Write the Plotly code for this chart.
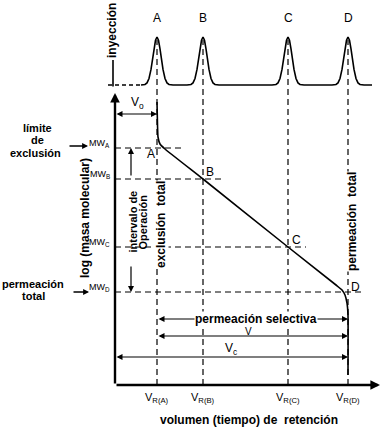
import plotly.graph_objects as go

# ---------------- data (arbitrary diagram units) ----------------
peaks = ["A", "B", "C", "D"]
v_r = [4.2, 8.8, 17.3, 23.3]            # retention volumes V_R
log_mw = [23.7, 20.6, 13.8, 9.3]        # log(masa molecular) of each standard
peak_height = [1.0, 1.0, 1.0, 1.0]      # detector signal (relative)

# calibration curve log(MW) vs retention volume
curve_v = [4.2, 4.25, 4.3, 4.5, 5.0, 8.8, 17.3, 22.1, 22.7, 23.0, 23.2, 23.3, 23.3]
curve_logmw = [28.3, 26.0, 24.8, 24.1, 23.6, 20.6, 13.8, 10.0, 9.5, 9.0, 8.2, 7.0, 1.0]

# chromatographic peak profile (offset from V_R, relative height)
profile_dv = [-1.6, -1.2, -1.0, -0.8, -0.6, -0.45, -0.3, -0.15, 0.0,
              0.15, 0.3, 0.45, 0.6, 0.8, 1.0, 1.2, 1.6]
profile_h = [0.0, 0.011, 0.044, 0.135, 0.325, 0.531, 0.755, 0.932, 1.0,
             0.932, 0.755, 0.531, 0.325, 0.135, 0.044, 0.011, 0.0]

v_injection = -0.2
v_end = 25.7
v0 = v_r[0]          # volumen de exclusión
vc = v_r[-1]         # volumen total

FONT = "Liberation Sans, Arial, sans-serif"
BLACK = "#000000"

fig = go.Figure()

# ---------------- chromatogram (top) ----------------
cx, cy = [], []
for vr, h in zip(v_r, peak_height):
    for dv, ph in zip(profile_dv, profile_h):
        cx.append(vr + dv)
        cy.append(ph * h)
cx.append(v_end)
cy.append(0.0)
fig.add_trace(go.Scatter(x=cx, y=cy, mode="lines", yaxis="y2",
                         line=dict(color=BLACK, width=1.6), hoverinfo="skip"))
# dashed stretch of baseline between injection and first peak
fig.add_trace(go.Scatter(x=[v_injection - 0.5, v_r[0] + profile_dv[0]], y=[0, 0],
                         mode="lines", yaxis="y2",
                         line=dict(color=BLACK, width=1.4, dash="4px,3px"), hoverinfo="skip"))
# injection mark
fig.add_trace(go.Scatter(x=[v_injection, v_injection], y=[-0.03, 0.52], mode="lines",
                         yaxis="y2", line=dict(color=BLACK, width=1.6), hoverinfo="skip"))

# ---------------- calibration curve ----------------
fig.add_trace(go.Scatter(x=curve_v, y=curve_logmw, mode="lines",
                         line=dict(color=BLACK, width=1.6, shape="spline", smoothing=0.4),
                         hoverinfo="skip"))

shapes = []
DASH = "6px,4px"
# vertical dashed lines at each retention volume
for vr in v_r:
    shapes.append(dict(type="line", xref="x", yref="y", x0=vr, x1=vr, y0=0, y1=34.5,
                       line=dict(color=BLACK, width=1.2, dash=DASH), layer="below"))
# horizontal dashed lines at each molecular weight
hline_ext = [2.5, 1.9, 1.8, 1.4]
for vr, lm, ext in zip(v_r, log_mw, hline_ext):
    shapes.append(dict(type="line", xref="x", yref="y", x0=0, x1=vr + ext, y0=lm, y1=lm,
                       line=dict(color=BLACK, width=1.2, dash=DASH), layer="below"))

annotations = []


def arrow(x0, y0, x1, y1, width=1.3, both=True, head=2, size=1.0):
    annotations.append(dict(x=x1, y=y1, ax=x0, ay=y0, xref="x", yref="y",
                            axref="x", ayref="y", text="", showarrow=True,
                            arrowhead=head, arrowsize=size, arrowwidth=width,
                            arrowside="end+start" if both else "end",
                            arrowcolor=BLACK, startarrowhead=head, startarrowsize=size))


def text(x, y, s, size=12, bold=False, angle=0, bg=None, xanchor="center",
         yanchor="middle", yref="y"):
    d = dict(x=x, y=y, xref="x", yref=yref, text=f"<b>{s}</b>" if bold else s,
             showarrow=False, textangle=angle, xanchor=xanchor, yanchor=yanchor,
             font=dict(family=FONT, size=size, color=BLACK), borderpad=0)
    if bg:
        d["bgcolor"] = bg
    annotations.append(d)


# axes with arrows
arrow(0, 0, 26.5, 0, width=2.4, both=False, head=2, size=0.8)
arrow(0, 0, 0, 29.2, width=2.4, both=False, head=2, size=0.8)

# V0
arrow(0, 27.1, v0, 27.1, width=1.2)
text(2.2, 28.2, "V<sub>o</sub>", size=12)

# operating interval (arrow split around the text)
arrow(1.6, 20.8, 1.6, log_mw[0], width=1.2, both=False)
arrow(1.6, 12.0, 1.6, log_mw[-1], width=1.2, both=False)
text(1.75, 16.3, "intervalo de", size=11, bold=True, angle=-90)
text(2.75, 16.3, "Operación", size=11, bold=True, angle=-90)

# selective permeation / V / Vc
arrow(v0, 6.6, vc, 6.6, width=1.2)
text(14.1, 6.6, "permeación selectiva", size=12, bold=True, bg="white")
arrow(v0, 4.9, vc, 4.9, width=1.2)
text(13.3, 5.4, "V", size=10)
arrow(0, 2.8, vc, 2.8, width=1.2)
text(11.6, 3.6, "V<sub>c</sub>", size=12)

# vertical labels
text(4.6, 16.0, "exclusión  total", size=12, bold=True, angle=-90, bg="white")
text(23.7, 16.3, "permeación  total", size=12, bold=True, angle=-90, bg="white")
text(-3.0, 16.7, "log (masa molecular)", size=12, bold=True, angle=-90)
text(-0.3, 35.4, "inyección", size=12, bold=True, angle=-90)

# left explanatory labels
text(-7.8, 25.75, "límite", size=11, bold=True)
text(-7.8, 24.5, "de", size=11, bold=True)
text(-8.0, 23.25, "exclusión", size=11, bold=True)
arrow(-4.7, 23.9, -2.7, 23.9, width=1.3, both=False, size=0.9)
text(-8.2, 10.15, "permeación", size=11, bold=True)
text(-8.2, 8.9, "total", size=11, bold=True)
arrow(-4.3, 9.3, -2.6, 9.3, width=1.3, both=False, size=0.9)

# MW labels
for p, lm in zip(peaks, log_mw):
    text(-0.45, lm + 0.45, f"MW<sub>{p}</sub>", size=9, xanchor="right")

# peak labels on chromatogram
for p, vr, h in zip(peaks, v_r, peak_height):
    text(vr, h + 0.40, p, size=12, yref="y2")

# point labels on the calibration curve
pt_off = [(-0.6, -0.6), (0.7, 0.7), (0.8, 0.7), (0.7, 0.5)]
for p, vr, lm, (dx, dy) in zip(peaks, v_r, log_mw, pt_off):
    text(vr + dx, lm + dy, p, size=12)

# V_R labels
for p, vr in zip(peaks, v_r):
    text(vr, -1.3, f"V<sub>R({p})</sub>", size=11)

text(13.4, -3.5, "volumen (tiempo) de  retención", size=12, bold=True)

fig.update_layout(
    width=388, height=442, autosize=False,
    margin=dict(l=0, r=0, t=0, b=0),
    paper_bgcolor="white", plot_bgcolor="white",
    showlegend=False,
    xaxis=dict(range=[-11.5, 27.3], visible=False, fixedrange=True),
    yaxis=dict(range=[-5.7, 38.5], visible=False, fixedrange=True),
    yaxis2=dict(range=[-7.4375, 1.7708], visible=False, overlaying="y", fixedrange=True),
    shapes=shapes,
    annotations=annotations,
)

fig.write_html("out.html",
               config={"staticPlot": True},
               post_script="document.body.style.margin='0';document.body.style.overflow='hidden';")
